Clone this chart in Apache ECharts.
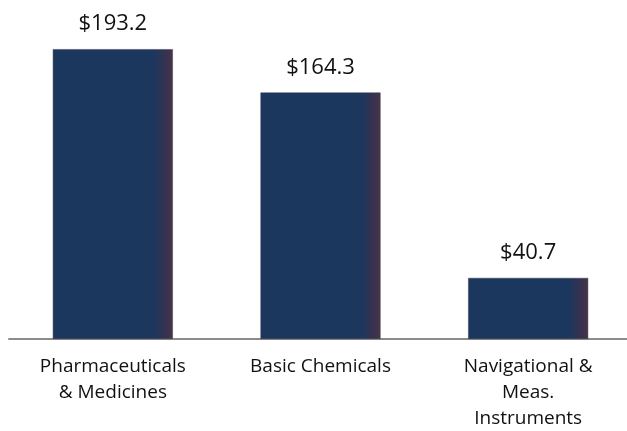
<!DOCTYPE html>
<html>
<head>
<meta charset="utf-8">
<style>
  html, body { margin: 0; padding: 0; background: #fff; }
  #main { width: 627px; height: 431px; }
</style>
<script src="https://cdn.jsdelivr.net/npm/echarts@6/dist/echarts.min.js"></script>
</head>
<body>
<div id="main"></div>
<script>
var categories = ['Pharmaceuticals\n& Medicines', 'Basic Chemicals', 'Navigational &\nMeas.\nInstruments'];
var values = [193.2, 164.3, 40.7];

var chart = echarts.init(document.getElementById('main'));

// bar fill: navy with a darker purplish strip at the right edge
var barFill = new echarts.graphic.LinearGradient(0, 0, 1, 0, [
    { offset: 0, color: '#1c375e' },
    { offset: 0.84, color: '#1c375e' },
    { offset: 0.94, color: '#36324f' },
    { offset: 1, color: '#4a3346' }
]);

chart.setOption({
    animation: false,
    grid: { left: 9, width: 623, top: 39, bottom: 92, containLabel: false, outerBoundsMode: 'none' },
    xAxis: {
        type: 'category',
        data: categories,
        axisTick: { show: false },
        axisLine: { lineStyle: { color: '#8c8c8c', width: 2 } },
        axisLabel: {
            color: '#111',
            fontFamily: 'Open Sans',
            fontSize: 19,
            lineHeight: 26,
            margin: 15,
            interval: 0
        }
    },
    yAxis: {
        type: 'value',
        min: 0,
        max: 200,
        show: false,
        splitLine: { show: false }
    },
    series: [{
        type: 'bar',
        data: values,
        barWidth: 120,
        itemStyle: { color: barFill, borderColor: '#3a3a55', borderWidth: 0.5 },
        label: {
            show: true,
            position: 'top',
            distance: 14,
            color: '#111',
            fontFamily: 'Open Sans',
            fontSize: 22,
            formatter: function(p) {
                return '$' + p.value.toFixed(1);
            }
        }
    }]
});
</script>
</body>
</html>
